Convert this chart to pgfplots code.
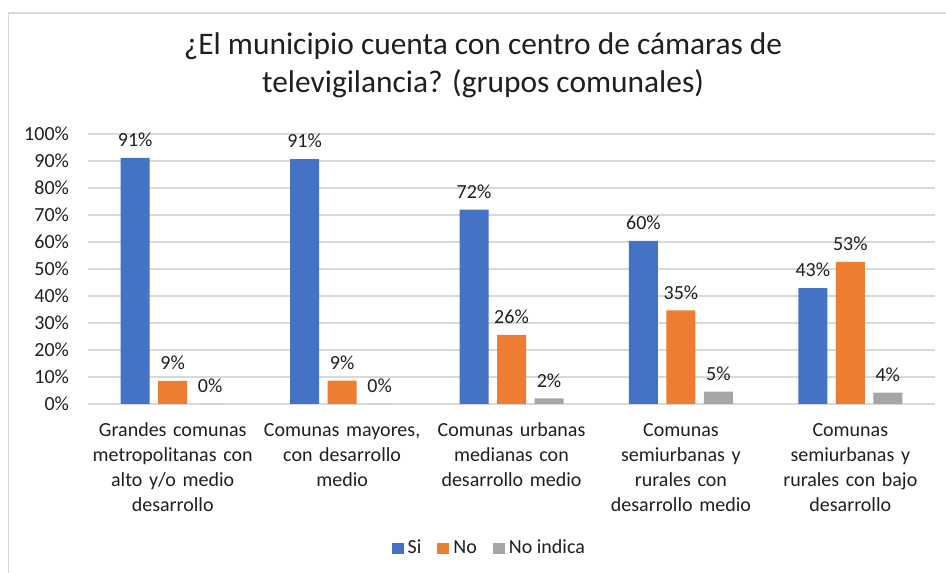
\documentclass[border=0pt]{standalone}
\usepackage{pgfplots}
\pgfplotsset{compat=1.18}
\usepackage{fontspec}
\setmainfont{Carlito}
\definecolor{cblue}{HTML}{4472C4}
\definecolor{corange}{HTML}{ED7D31}
\definecolor{cgray}{HTML}{A5A5A5}
\definecolor{cgrid}{HTML}{D9D9D9}
\definecolor{ctext}{HTML}{1F1F1F}
\begin{document}
\begin{tikzpicture}
\path[use as bounding box] (0,0) rectangle (473pt,286pt);
\draw[cgrid, line width=0.8pt] (4.25pt,-2pt) -- (4.25pt,279.5pt) -- (475pt,279.5pt);
\node[anchor=base, font=\fontsize{15.7}{19}\selectfont, text=ctext] at (241.5pt,258.5pt) {¿El municipio cuenta con centro de cámaras de};
\node[anchor=base, font=\fontsize{15.7}{19}\selectfont, text=ctext] at (241.5pt,239.5pt) {televigilancia? (grupos comunales)};
\begin{axis}[
  at={(44pt,84pt)}, anchor=south west,
  scale only axis, width=423.5pt, height=135pt,
  ybar=4.25pt, bar width=14.5pt,
  xmin=-0.5, xmax=4.5, ymin=0, ymax=100,
  xtick={0,1,2,3,4},
  xticklabels={{Grandes comunas\\metropolitanas con\\alto y/o medio\\desarrollo},
               {Comunas mayores,\\con desarrollo\\medio},
               {Comunas urbanas\\medianas con\\desarrollo medio},
               {Comunas\\semiurbanas y\\rurales con\\desarrollo medio},
               {Comunas\\semiurbanas y\\rurales con bajo\\desarrollo}},
  xticklabel style={align=center, text width=84pt, font=\fontsize{10}{12.5}\selectfont, text=ctext, yshift=-6pt},
  ytick={0,10,...,100},
  yticklabel={\pgfmathprintnumber{\tick}\%},
  yticklabel style={font=\fontsize{10}{12}\selectfont, text=ctext, xshift=-6pt},
  /pgf/number format/assume math mode=true,
  ymajorgrids, grid style={cgrid, line width=0.8pt},
  major tick length=0pt,
  tick style={draw=none},
  axis x line*=bottom, axis y line*=left,
  x axis line style={draw=cgrid, line width=0.8pt},
  y axis line style={draw=none},
  nodes near coords={\pgfmathprintnumber[fixed,precision=0]{\pgfplotspointmeta}\%},
  nodes near coords style={font=\fontsize{10}{12}\selectfont, text=ctext, anchor=south, yshift=2pt},
  point meta=y,
  legend columns=3,
  legend style={draw=none, at={(0.475,-0.535)}, anchor=center, font=\fontsize{10}{12}\selectfont, text=ctext,
    /tikz/every even column/.append style={column sep=6pt},
    nodes={inner xsep=2pt}},
  legend image code/.code={\fill[#1] (0pt,-2.6pt) rectangle (6pt,2.9pt);},
  clip=false,
]
\addplot[fill=cblue, draw=none] coordinates {(0,91.2) (1,90.7) (2,72.0) (3,60.4) (4,42.9)};
\addplot[fill=corange, draw=none] coordinates {(0,8.6) (1,8.7) (2,25.6) (3,34.7) (4,52.6)};
\addplot[fill=cgray, draw=none] coordinates {(0,0) (1,0) (2,2.1) (3,4.6) (4,4.2)};
\legend{Si, No, No indica}
\end{axis}
\end{tikzpicture}
\end{document}
